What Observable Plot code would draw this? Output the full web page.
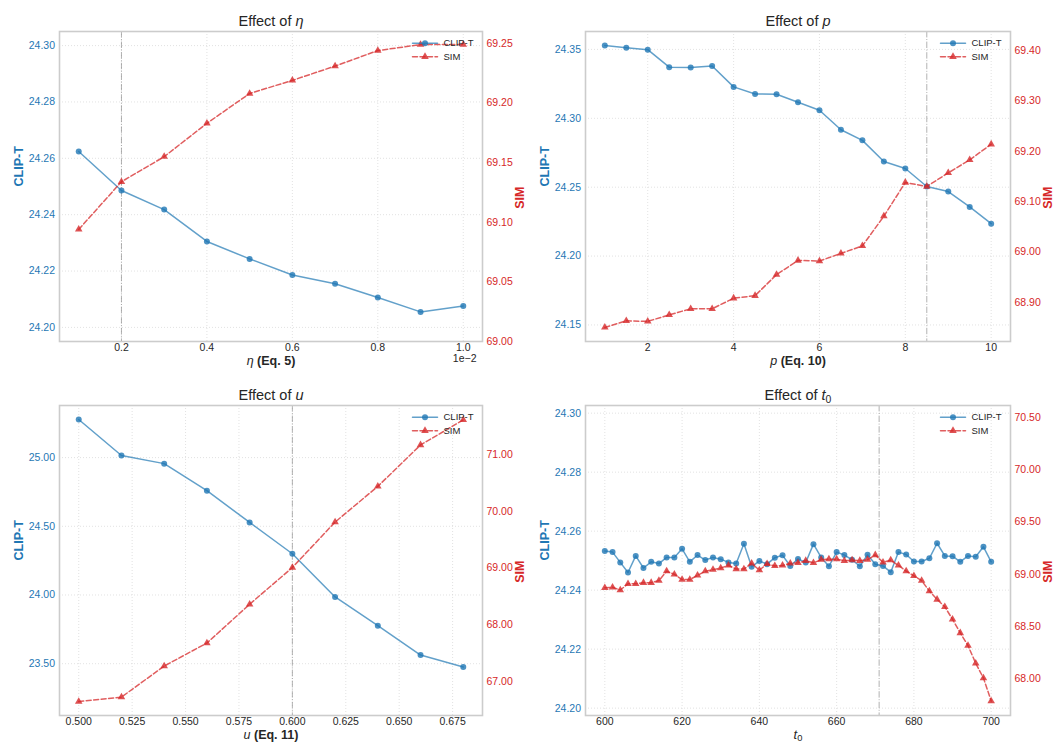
<!DOCTYPE html>
<html><head><meta charset="utf-8">
<script src="https://cdn.jsdelivr.net/npm/d3@7"></script>
<script src="https://cdn.jsdelivr.net/npm/@observablehq/plot@0.6"></script>
<style>
body{margin:0;background:#fff}
#wrap{position:relative;width:1057px;height:748px;background:#fff}
#wrap svg{position:absolute}
</style>
</head><body><div id="wrap"></div>
<script>
// ---------- data ----------
const etaX = [0.1, 0.2, 0.3, 0.4, 0.5, 0.6, 0.7, 0.8, 0.9, 1.0];
const etaClip = [24.2624, 24.2486, 24.2418, 24.2305, 24.2243, 24.2186, 24.2155, 24.2106, 24.2055, 24.2076];
const etaSim = [69.094, 69.134, 69.155, 69.183, 69.208, 69.219, 69.231, 69.244, 69.249, 69.249];
const etaXTicks = [0.2, 0.4, 0.6, 0.8, 1.0];
const etaClipTicks = [24.20, 24.22, 24.24, 24.26, 24.28, 24.30];
const etaSimTicks = [69.00, 69.05, 69.10, 69.15, 69.20, 69.25];

const pX = [1, 1.5, 2, 2.5, 3, 3.5, 4, 4.5, 5, 5.5, 6, 6.5, 7, 7.5, 8, 8.5, 9, 9.5, 10];
const pClip = [24.3529, 24.3512, 24.3498, 24.3371, 24.3369, 24.3379, 24.3228, 24.3177, 24.3175, 24.3117,
               24.3058, 24.2917, 24.2840, 24.2687, 24.2636, 24.2505, 24.2468, 24.2357, 24.2235];
const pSim = [68.850, 68.863, 68.862, 68.875, 68.887, 68.887, 68.908, 68.913, 68.955, 68.983,
              68.982, 68.997, 69.012, 69.071, 69.138, 69.130, 69.157, 69.183, 69.214];
const pXTicks = [2, 4, 6, 8, 10];
const pClipTicks = [24.15, 24.20, 24.25, 24.30, 24.35];
const pSimTicks = [68.90, 69.00, 69.10, 69.20, 69.30, 69.40];

const uX = [0.50, 0.52, 0.54, 0.56, 0.58, 0.60, 0.62, 0.64, 0.66, 0.68];
const uClip = [25.277, 25.015, 24.956, 24.759, 24.528, 24.300, 23.986, 23.777, 23.563, 23.476];
const uSim = [66.653, 66.730, 67.276, 67.681, 68.363, 69.009, 69.808, 70.436, 71.164, 71.605];
const uXTicks = [0.500, 0.525, 0.550, 0.575, 0.600, 0.625, 0.650, 0.675];
const uClipTicks = [23.50, 24.00, 24.50, 25.00];
const uSimTicks = [67.00, 68.00, 69.00, 70.00, 71.00];

const t0X = [600, 602, 604, 606, 608, 610, 612, 614, 616, 618,
             620, 622, 624, 626, 628, 630, 632, 634, 636, 638,
             640, 642, 644, 646, 648, 650, 652, 654, 656, 658,
             660, 662, 664, 666, 668, 670, 672, 674, 676, 678,
             680, 682, 684, 686, 688, 690, 692, 694, 696, 698, 700];
const t0Clip = [24.2533, 24.2529, 24.2494, 24.2460, 24.2516, 24.2475, 24.2496, 24.2490, 24.2511, 24.2511,
                24.2540, 24.2496, 24.2519, 24.2502, 24.2511, 24.2505, 24.2494, 24.2490, 24.2557, 24.2479,
                24.2499, 24.2488, 24.2510, 24.2518, 24.2482, 24.2506, 24.2494, 24.2556, 24.2511, 24.2481,
                24.2529, 24.2519, 24.2503, 24.2481, 24.2520, 24.2488, 24.2482, 24.2461, 24.2529, 24.2521,
                24.2497, 24.2497, 24.2508, 24.2559, 24.2516, 24.2515, 24.2496, 24.2516, 24.2513, 24.2547, 24.2496];
const t0Sim = [68.872, 68.876, 68.850, 68.910, 68.910, 68.920, 68.920, 68.940, 69.030, 69.000,
               68.950, 68.950, 68.990, 69.030, 69.045, 69.060, 69.085, 69.050, 69.050, 69.105,
               69.040, 69.100, 69.080, 69.085, 69.105, 69.110, 69.130, 69.110, 69.140, 69.145,
               69.145, 69.130, 69.135, 69.130, 69.140, 69.185, 69.115, 69.135, 69.085, 69.030,
               68.985, 68.940, 68.840, 68.760, 68.690, 68.570, 68.440, 68.320, 68.150, 68.010, 67.790];
const t0XTicks = [600, 620, 640, 660, 680, 700];
const t0ClipTicks = [24.20, 24.22, 24.24, 24.26, 24.28, 24.30];
const t0SimTicks = [68.00, 68.50, 69.00, 69.50, 70.00, 70.50];

const seriesNames = ["CLIP-T", "SIM"];

// ---------- drawing ----------
const BLUE = "#1f77b4", RED = "#d62728", INK = "#262626";
const FONT = "'Liberation Sans', Arial, Helvetica, sans-serif";
const NS = "http://www.w3.org/2000/svg";

function rich(svg, plain, parts) {
  svg.querySelectorAll("text").forEach(t => {
    if (t.textContent === plain) {
      t.textContent = "";
      parts.forEach(p => {
        const s = document.createElementNS(NS, "tspan");
        s.textContent = p.t;
        if (p.i) s.setAttribute("font-style", "italic");
        if (p.w) s.setAttribute("font-weight", p.w);
        if (p.sub) { s.setAttribute("dy", "0.3em"); s.setAttribute("font-size", "0.72em"); }
        t.appendChild(s);
      });
    }
  });
}

function panel(cfg) {
  const [lL, lH] = cfg.clipDomain, [rL, rH] = cfg.simDomain;
  const f = s => lL + (s - rL) / (rH - rL) * (lH - lL);
  const finv = v => rL + (v - lL) / (lH - lL) * (rH - rL);
  const clip = cfg.x.map((x, i) => ({x, y: cfg.clip[i]}));
  const sim = cfg.x.map((x, i) => ({x, y: f(cfg.sim[i])}));
  const [x0, x1] = cfg.xDomain;
  const W = cfg.width, ml = cfg.ml, mr = cfg.mr, fw = W - ml - mr;
  const H = 374, mt = 31, mb = 33, fh = H - mt - mb;
  const px2x = p => x0 + (p / fw) * (x1 - x0);
  const py2y = p => lH - (p / fh) * (lH - lL);
  const legRows = [11.7, 25.2].map(py2y);
  const legA = px2x(fw - 70), legB = px2x(fw - 45), legM = px2x(fw - 57.5), legT = px2x(fw - 39);
  const fmt2 = d3.format(".2f");

  const marks = [
    Plot.gridX(cfg.xTicks, {stroke: "#d4d4d4", strokeOpacity: 0.85, strokeDasharray: "1,2", strokeWidth: 0.8}),
    Plot.gridY(cfg.clipTicks, {stroke: "#d4d4d4", strokeOpacity: 0.85, strokeDasharray: "1,2", strokeWidth: 0.8}),
    Plot.ruleX([cfg.vline], {stroke: "#7f7f7f", strokeOpacity: 0.6, strokeWidth: 1, strokeDasharray: "6.4,1.6,1,1.6"}),
    Plot.line(clip, {x: "x", y: "y", stroke: BLUE, strokeOpacity: 0.7, strokeWidth: 1.5}),
    Plot.dot(clip, {x: "x", y: "y", r: 3, fill: BLUE, fillOpacity: 0.8, stroke: null}),
    Plot.line(sim, {x: "x", y: "y", stroke: RED, strokeOpacity: 0.75, strokeWidth: 1.5, strokeDasharray: "5,2.5"}),
    Plot.dot(sim, {x: "x", y: "y", r: 2.8, symbol: "triangle", fill: RED, fillOpacity: 0.8, stroke: null}),
    // legend
    Plot.line([{x: legA, y: legRows[0]}, {x: legB, y: legRows[0]}], {x: "x", y: "y", stroke: BLUE, strokeOpacity: 0.7, strokeWidth: 1.5}),
    Plot.dot([{x: legM, y: legRows[0]}], {x: "x", y: "y", r: 3, fill: BLUE, fillOpacity: 0.8}),
    Plot.line([{x: legA, y: legRows[1]}, {x: legB, y: legRows[1]}], {x: "x", y: "y", stroke: RED, strokeOpacity: 0.75, strokeWidth: 1.5, strokeDasharray: "5,2.5"}),
    Plot.dot([{x: legM, y: legRows[1]}], {x: "x", y: "y", r: 2.8, symbol: "triangle", fill: RED, fillOpacity: 0.8}),
    Plot.text(seriesNames.map((n, i) => ({n, x: legT, y: legRows[i]})), {x: "x", y: "y", text: "n", textAnchor: "start", fontSize: 9.5, fill: INK}),
    // axes
    Plot.axisX(cfg.xTicks, {tickSize: 0, tickPadding: 2.5, tickFormat: d3.format(cfg.xFormat), color: INK, fontSize: 10.5, label: null}),
    Plot.axisY(cfg.clipTicks, {anchor: "left", tickSize: 0, tickPadding: 4.5, tickFormat: fmt2, color: BLUE, fontSize: 10.5, label: null}),
    Plot.axisY(cfg.simTicks.map(f), {anchor: "right", tickSize: 0, tickPadding: 4, tickFormat: v => fmt2(finv(v)), color: RED, fontSize: 10.5, label: null}),
    Plot.frame({stroke: "#cccccc", strokeWidth: 1.6}),
    // labels
    Plot.text([cfg.title], {text: d => d, frameAnchor: "top", dy: -16, fontSize: 14.5, fill: INK}),
    Plot.text([cfg.xLabel], {text: d => d, frameAnchor: "bottom", dy: 23, fontSize: cfg.xLabelSize, fontWeight: cfg.xLabelWeight, fill: INK}),
    Plot.text(["CLIP-T"], {text: d => d, frameAnchor: "left", dx: -41, rotate: -90, fontSize: 12.5, fontWeight: "bold", fill: BLUE}),
    Plot.text(["SIM"], {text: d => d, frameAnchor: "right", dx: 37, rotate: -90, fontSize: 12.5, fontWeight: "bold", fill: RED})
  ];
  if (cfg.offset) marks.push(Plot.text([cfg.offset], {text: d => d, frameAnchor: "bottom-right", dy: 20, dx: -6, textAnchor: "end", fontSize: 10.5, fill: INK}));

  const svg = Plot.plot({
    width: W, height: H,
    marginLeft: ml, marginRight: mr, marginTop: mt, marginBottom: mb,
    x: {domain: cfg.xDomain},
    y: {domain: cfg.clipDomain},
    style: {fontFamily: FONT, fontSize: "10.5px", background: "transparent", overflow: "visible"},
    marks
  });
  cfg.rich.forEach(([plain, parts]) => rich(svg, plain, parts));
  svg.style.left = cfg.left + "px";
  svg.style.top = cfg.top + "px";
  document.getElementById("wrap").appendChild(svg);
}

panel({
  left: 0, top: 0, width: 528, ml: 59, mr: 46,
  x: etaX, clip: etaClip, sim: etaSim,
  xDomain: [0.055, 1.045], xTicks: etaXTicks, xFormat: ".1f",
  clipDomain: [24.195, 24.305], simDomain: [69.0, 69.26],
  clipTicks: etaClipTicks, simTicks: etaSimTicks, vline: 0.2,
  title: "Effect of η", xLabel: "η (Eq. 5)", xLabelSize: 12.5, xLabelWeight: "bold", offset: "1e−2",
  rich: [["Effect of η", [{t: "Effect of "}, {t: "η", i: true}]],
         ["η (Eq. 5)", [{t: "η", i: true, w: "normal"}, {t: " (Eq. 5)"}]]]
});
panel({
  left: 528, top: 0, width: 529, ml: 57, mr: 47,
  x: pX, clip: pClip, sim: pSim,
  xDomain: [0.55, 10.45], xTicks: pXTicks, xFormat: "d",
  clipDomain: [24.138, 24.363], simDomain: [68.822, 69.438],
  clipTicks: pClipTicks, simTicks: pSimTicks, vline: 8.5,
  title: "Effect of p", xLabel: "p (Eq. 10)", xLabelSize: 12.5, xLabelWeight: "bold",
  rich: [["Effect of p", [{t: "Effect of "}, {t: "p", i: true}]],
         ["p (Eq. 10)", [{t: "p", i: true, w: "normal"}, {t: " (Eq. 10)"}]]]
});
panel({
  left: 0, top: 374, width: 528, ml: 59, mr: 46,
  x: uX, clip: uClip, sim: uSim,
  xDomain: [0.491, 0.689], xTicks: uXTicks, xFormat: ".3f",
  clipDomain: [23.123, 25.379], simDomain: [66.407, 71.858],
  clipTicks: uClipTicks, simTicks: uSimTicks, vline: 0.6,
  title: "Effect of u", xLabel: "u (Eq. 11)", xLabelSize: 12.5, xLabelWeight: "bold",
  rich: [["Effect of u", [{t: "Effect of "}, {t: "u", i: true}]],
         ["u (Eq. 11)", [{t: "u", i: true, w: "normal"}, {t: " (Eq. 11)"}]]]
});
panel({
  left: 528, top: 374, width: 529, ml: 57, mr: 47,
  x: t0X, clip: t0Clip, sim: t0Sim,
  xDomain: [595, 705], xTicks: t0XTicks, xFormat: "d",
  clipDomain: [24.1975, 24.3026], simDomain: [67.652, 70.612],
  clipTicks: t0ClipTicks, simTicks: t0SimTicks, vline: 671,
  title: "Effect of t0", xLabel: "t0", xLabelSize: 13, xLabelWeight: "normal",
  rich: [["Effect of t0", [{t: "Effect of "}, {t: "t", i: true}, {t: "0", sub: true}]],
         ["t0", [{t: "t", i: true}, {t: "0", sub: true}]]]
});
</script></body></html>
